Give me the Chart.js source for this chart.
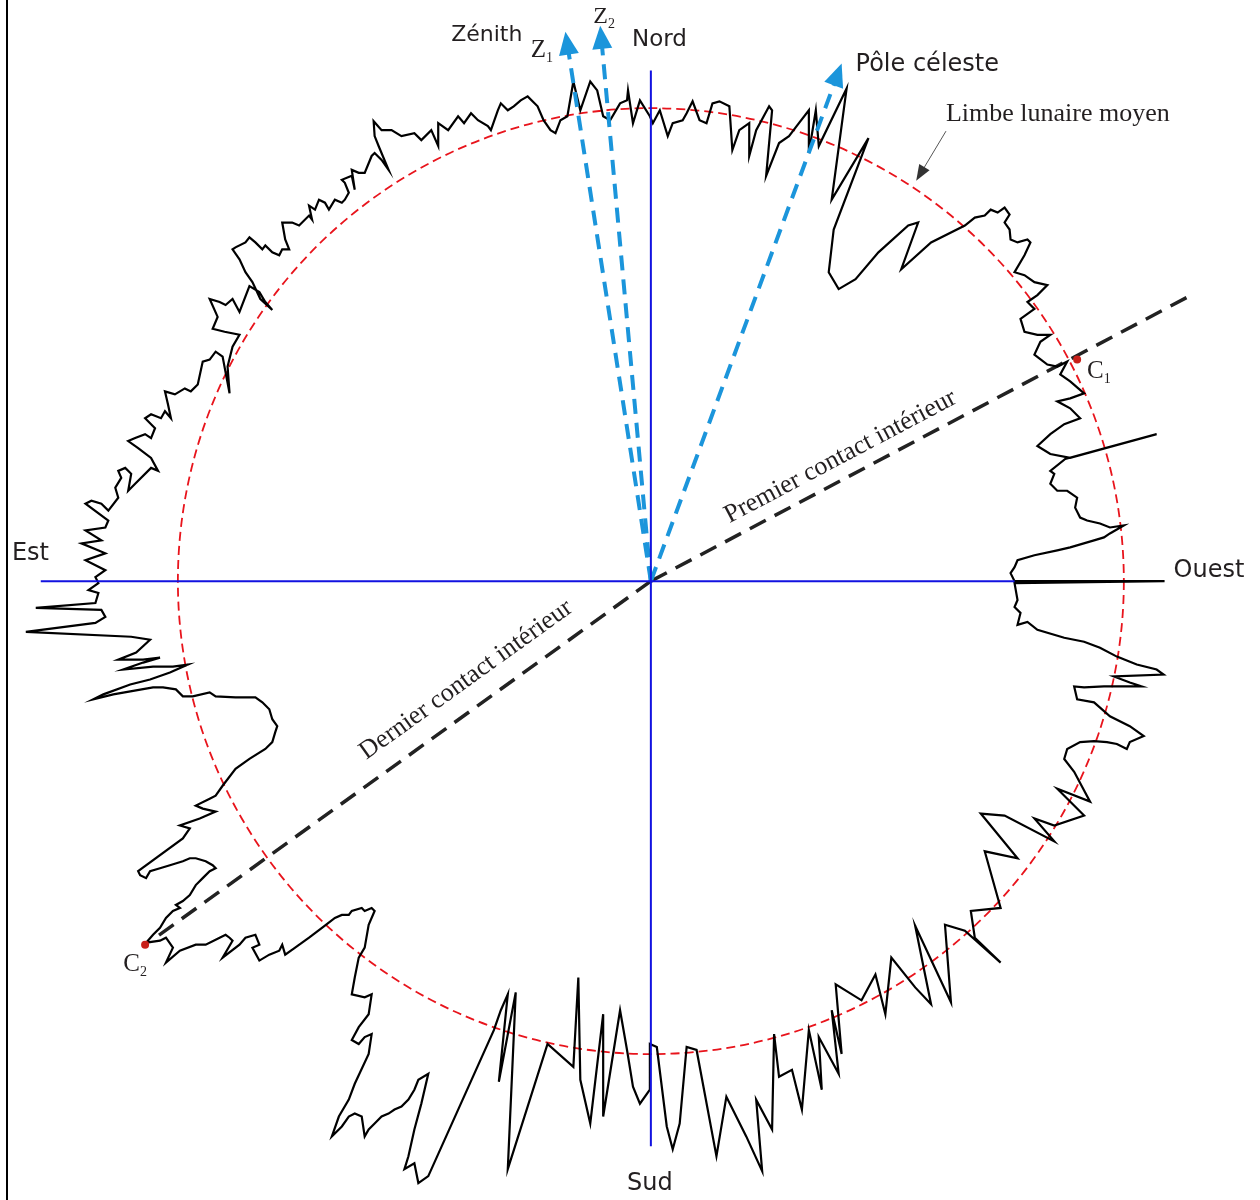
<!DOCTYPE html>
<html>
<head>
<meta charset="utf-8">
<script src="https://cdn.jsdelivr.net/npm/chart.js@4/dist/chart.umd.min.js"></script>
<style>
  body { margin: 0; background: #fff; }
  #wrap { width: 1260px; height: 1200px; }
</style>
</head>
<body>
<div id="wrap"><canvas id="limb"></canvas></div>
<script>
// limb profile, [x, y] offsets from the moon centre (y up), clockwise from north
const limbNorthWest = [[-1,468],[2,461],[9,474],[17,448],[22,461],[32,464],[36,471],[42,483],[49,464],[56,461],[62,481],[69,483],[79,478],[82,434],[89,454],[99,461],[99,428],[106,454],[119,478],[122,474],[116,408],[129,441],[139,448],[149,461],[159,474],[159,431],[166,474],[169,438],[197,496],[182,384],[219,446],[184,354],[179,311],[189,294],[206,304],[229,331],[259,358],[269,361],[252,314],[282,341],[316,358],[326,366],[336,368],[342,374],[349,371],[356,376],[361,369],[356,361],[361,354],[362,344],[369,341],[379,344],[382,341],[376,328],[366,311],[376,308],[386,301],[399,298],[389,288],[379,281],[386,274],[372,264],[376,251],[389,248],[402,248],[392,241],[386,228],[399,218],[409,216],[419,221],[412,208],[422,201],[436,189],[422,184],[409,181],[422,174],[432,164],[416,158],[402,148],[389,136],[402,128],[422,124],[509,148],[417,123],[402,111],[406,108],[402,98],[409,91],[419,91],[429,84],[427,74],[432,64],[439,61],[452,58],[462,54],[476,56],[462,48],[456,44],[446,41],[422,34],[409,31],[386,26],[369,21],[366,14],[362,8],[366,0],[517,0]];
const limbSouthWest = [[366,-2],[369,-19],[366,-26],[372,-32],[369,-44],[379,-41],[389,-49],[416,-57],[426,-59],[436,-61],[452,-67],[469,-76],[489,-84],[509,-89],[516,-94],[466,-96],[482,-102],[494,-106],[456,-106],[436,-107],[426,-106],[429,-119],[446,-122],[462,-136],[482,-146],[496,-156],[482,-162],[479,-169],[469,-164],[459,-162],[446,-161],[432,-162],[419,-169],[416,-179],[426,-192],[442,-222],[409,-209],[436,-236],[406,-246],[386,-239],[406,-262],[356,-236],[332,-234],[369,-279],[336,-272],[352,-329],[322,-332],[326,-359],[352,-384],[316,-352],[296,-346],[302,-424],[266,-347],[282,-426],[266,-409],[242,-379],[236,-436],[226,-396],[212,-422],[186,-406],[192,-476],[182,-432],[189,-496],[169,-459],[172,-512],[159,-452],[152,-532],[142,-492],[129,-499],[124,-456],[122,-552],[106,-522],[112,-594],[96,-559],[76,-519],[66,-579],[46,-472],[36,-469],[29,-546],[22,-572],[16,-549],[6,-469],[-1,-466]];
const limbSouthEast = [[-1,-512],[-11,-526],[-18,-509],[-24,-472],[-31,-432],[-48,-539],[-48,-436],[-61,-546],[-71,-502],[-73,-399],[-78,-489],[-104,-466],[-144,-592],[-136,-414],[-153,-504],[-144,-416],[-151,-432],[-158,-452],[-224,-599],[-234,-606],[-238,-586],[-248,-592],[-244,-579],[-238,-552],[-231,-526],[-224,-496],[-234,-502],[-238,-512],[-244,-522],[-251,-529],[-258,-532],[-264,-536],[-271,-539],[-278,-546],[-284,-552],[-288,-559],[-291,-539],[-298,-536],[-304,-539],[-311,-549],[-321,-559],[-314,-539],[-304,-522],[-298,-506],[-284,-476],[-281,-456],[-288,-459],[-294,-466],[-301,-462],[-294,-449],[-284,-436],[-281,-416],[-288,-419],[-301,-416],[-298,-399],[-294,-379],[-288,-369],[-284,-346],[-278,-332],[-281,-329],[-288,-332],[-291,-329],[-301,-332],[-304,-336],[-311,-336],[-318,-339],[-331,-349],[-344,-359],[-358,-369],[-368,-376],[-371,-366],[-374,-372],[-384,-376],[-394,-382],[-401,-369],[-394,-366],[-398,-356],[-408,-359],[-414,-366],[-431,-379],[-421,-362],[-424,-359],[-428,-356],[-434,-359],[-448,-366],[-458,-366],[-474,-372],[-488,-384],[-481,-369],[-488,-359],[-494,-362],[-508,-364],[-501,-356],[-494,-349],[-488,-339],[-481,-332],[-474,-329],[-478,-326],[-471,-322],[-464,-316],[-458,-306],[-451,-299],[-444,-292],[-438,-289],[-441,-286],[-448,-282],[-458,-279],[-464,-279],[-471,-282],[-484,-286],[-494,-289],[-504,-292],[-508,-299],[-514,-296],[-516,-292],[-471,-259],[-464,-249],[-474,-246],[-454,-239],[-438,-232],[-451,-229],[-458,-226],[-444,-219],[-438,-216],[-431,-206],[-418,-189],[-404,-179],[-388,-169],[-381,-162],[-378,-152],[-376,-146],[-381,-139],[-384,-129],[-391,-122],[-398,-117],[-418,-117],[-438,-116],[-444,-112],[-461,-116],[-471,-116],[-478,-109],[-491,-107],[-501,-107],[-541,-114],[-561,-119],[-551,-114],[-524,-104],[-504,-99],[-484,-92],[-466,-84],[-481,-86],[-501,-86],[-531,-89],[-511,-82],[-494,-77],[-511,-79],[-536,-79],[-518,-72],[-504,-59],[-523,-56],[-629,-51],[-559,-42],[-549,-36],[-553,-29],[-619,-27],[-559,-22],[-556,-12],[-566,-9],[-556,-2]];
const limbNorthEast = [[-559,4],[-549,11],[-569,21],[-549,28],[-573,38],[-553,41],[-569,51],[-549,54],[-546,61],[-569,78],[-563,81],[-553,78],[-546,71],[-536,84],[-539,94],[-533,104],[-536,111],[-529,114],[-523,108],[-526,91],[-519,98],[-503,114],[-496,111],[-503,124],[-516,134],[-526,141],[-519,144],[-509,148],[-503,144],[-499,154],[-509,164],[-503,168],[-493,164],[-489,171],[-483,164],[-486,178],[-489,191],[-479,188],[-469,194],[-463,191],[-456,198],[-451,221],[-444,223],[-438,231],[-431,226],[-424,189],[-426,216],[-421,236],[-414,248],[-429,251],[-441,254],[-436,266],[-444,284],[-434,281],[-428,278],[-421,284],[-414,271],[-404,297],[-394,291],[-388,281],[-381,273],[-393,284],[-401,301],[-408,311],[-414,324],[-421,334],[-418,336],[-408,341],[-404,346],[-398,341],[-391,334],[-388,338],[-381,331],[-374,328],[-371,334],[-364,334],[-368,344],[-371,361],[-361,361],[-354,358],[-344,368],[-341,364],[-344,378],[-338,374],[-334,384],[-328,381],[-324,374],[-318,384],[-311,381],[-308,384],[-304,391],[-308,401],[-311,404],[-301,408],[-298,394],[-301,414],[-294,411],[-288,411],[-281,428],[-278,431],[-271,424],[-264,414],[-274,438],[-278,448],[-279,463],[-271,454],[-261,454],[-251,448],[-238,451],[-231,444],[-221,454],[-214,438],[-214,461],[-204,454],[-194,468],[-188,461],[-181,471],[-174,464],[-164,458],[-161,454],[-154,474],[-151,481],[-144,474],[-138,478],[-131,484],[-124,488],[-114,478],[-108,464],[-101,454],[-96,451],[-91,464],[-84,468],[-78,503],[-71,474],[-61,503],[-54,494],[-48,468],[-41,464],[-31,481],[-24,484],[-23,494],[-18,461],[-11,484],[-1,468]];

const meanRadius = 476;
const eastWestAxis = [-614, 366];
const northSouthAxis = [514, -569];
const firstContact = [544, 288];
const lastContact = [-500, -360];
const contactC1 = [429, 223];
const contactC2 = [-509, -366];
const zenith1 = [-86, 553];
const zenith2 = [-51, 559];
const celestialPole = [192, 521];

const sans = "'DejaVu Sans', sans-serif";
const serif = "'Liberation Serif', 'Times New Roman', serif";
const ink = "#231f20";
const arrowBlue = "#1b95db";

// text labels: [text, x, y, font, subscript]
const labels = [
  ["Zénith", -201, 544, "22px " + sans],
  ["Nord", -19, 539, "23px " + sans],
  ["Pôle céleste", 206, 514, "24px " + sans],
  ["Limbe lunaire moyen", 297, 463, "26px " + serif],
  ["Est", -643, 21, "24px " + sans],
  ["Ouest", 526, 4, "24px " + sans],
  ["Sud", -24, -613, "24px " + sans],
  ["Z", -121, 528, "25px " + serif, "1"],
  ["Z", -58, 562, "24px " + serif, "2"],
  ["C", 439, 204, "25px " + serif, "1"],
  ["C", -531, -392, "25px " + serif, "2"],
];

const toXY = (pts) => pts.map((p) => ({ x: p[0], y: p[1] }));
const segment = (a, b) => [{ x: a[0], y: a[1] }, { x: b[0], y: b[1] }];

const limbProfile = [
  ...limbNorthWest,
  ...limbSouthWest,
  ...limbSouthEast,
  ...limbNorthEast,
];

const decor = {
  id: "decor",
  beforeDatasetsDraw(chart) {
    const { ctx, scales } = chart;
    const cx = scales.x.getPixelForValue(0);
    const cy = scales.y.getPixelForValue(0);
    const r = scales.x.getPixelForValue(meanRadius) - cx;
    ctx.save();
    // frame on the left
    ctx.strokeStyle = "#000";
    ctx.lineWidth = 2;
    ctx.beginPath();
    ctx.moveTo(7, 0);
    ctx.lineTo(7, chart.height);
    ctx.stroke();
    // mean lunar limb
    ctx.strokeStyle = "#e8141c";
    ctx.lineWidth = 1.8;
    ctx.setLineDash([9, 5]);
    ctx.beginPath();
    ctx.arc(cx, cy, r, 0, Math.PI * 2);
    ctx.stroke();
    ctx.restore();
  },
  afterDatasetsDraw(chart) {
    const { ctx, scales } = chart;
    const px = (v) => scales.x.getPixelForValue(v);
    const py = (v) => scales.y.getPixelForValue(v);
    const cx = px(0);
    const cy = py(0);
    ctx.save();

    // arrow heads on the blue directions
    ctx.fillStyle = arrowBlue;
    [zenith1, zenith2, celestialPole].forEach((tip) => {
      const tx = px(tip[0]);
      const ty = py(tip[1]);
      const a = Math.atan2(ty - cy, tx - cx);
      ctx.beginPath();
      ctx.moveTo(tx, ty);
      ctx.lineTo(tx - 23 * Math.cos(a) + 10 * Math.sin(a), ty - 23 * Math.sin(a) - 10 * Math.cos(a));
      ctx.lineTo(tx - 23 * Math.cos(a) - 10 * Math.sin(a), ty - 23 * Math.sin(a) + 10 * Math.cos(a));
      ctx.closePath();
      ctx.fill();
    });

    // pointer to the mean limb
    const p0 = [px(297), py(453)];
    const p1 = [px(267), py(403)];
    const pa = Math.atan2(p1[1] - p0[1], p1[0] - p0[0]);
    ctx.strokeStyle = "#555";
    ctx.fillStyle = "#333";
    ctx.lineWidth = 1;
    ctx.beginPath();
    ctx.moveTo(p0[0], p0[1]);
    ctx.lineTo(p1[0] - 10 * Math.cos(pa), p1[1] - 10 * Math.sin(pa));
    ctx.stroke();
    ctx.beginPath();
    ctx.moveTo(p1[0], p1[1]);
    ctx.lineTo(p1[0] - 16 * Math.cos(pa) + 6 * Math.sin(pa), p1[1] - 16 * Math.sin(pa) - 6 * Math.cos(pa));
    ctx.lineTo(p1[0] - 16 * Math.cos(pa) - 6 * Math.sin(pa), p1[1] - 16 * Math.sin(pa) + 6 * Math.cos(pa));
    ctx.closePath();
    ctx.fill();

    // labels
    ctx.fillStyle = ink;
    ctx.textBaseline = "alphabetic";
    ctx.textAlign = "left";
    labels.forEach(([text, x, y, font, sub]) => {
      ctx.font = font;
      ctx.fillText(text, px(x), py(y));
      if (sub) {
        const w = ctx.measureText(text).width;
        ctx.font = "14px " + serif;
        ctx.fillText(sub, px(x) + w, py(y) + 5);
      }
    });

    // contact line captions
    ctx.font = "26px " + serif;
    ctx.textAlign = "center";
    [
      ["Premier contact intérieur", firstContact, [194, 119]],
      ["Dernier contact intérieur", lastContact, [-182, -105]],
    ].forEach(([text, end, at]) => {
      let a = Math.atan2(py(end[1]) - cy, px(end[0]) - cx);
      if (Math.abs(a) > Math.PI / 2) a += Math.PI;
      ctx.save();
      ctx.translate(px(at[0]), py(at[1]));
      ctx.rotate(a);
      ctx.fillText(text, 0, 0);
      ctx.restore();
    });
    ctx.restore();
  },
};

new Chart(document.querySelector("#limb"), {
  type: "scatter",
  data: {
    datasets: [
      {
        data: segment([eastWestAxis[0], 0], [eastWestAxis[1], 0]),
        showLine: true,
        borderColor: "#1212e0",
        borderWidth: 2,
        pointRadius: 0,
        order: 0,
      },
      {
        data: segment([0, northSouthAxis[0]], [0, northSouthAxis[1]]),
        showLine: true,
        borderColor: "#1212e0",
        borderWidth: 2,
        pointRadius: 0,
        order: 0,
      },
      {
        data: toXY(limbProfile),
        showLine: true,
        borderColor: "#000",
        borderWidth: 2.2,
        pointRadius: 0,
        tension: 0,
        order: 1,
      },
      {
        data: segment([0, 0], firstContact),
        showLine: true,
        borderColor: "#222",
        borderWidth: 3.5,
        borderDash: [18, 10],
        pointRadius: 0,
        order: 2,
      },
      {
        data: segment([0, 0], lastContact),
        showLine: true,
        borderColor: "#222",
        borderWidth: 3.5,
        borderDash: [18, 10],
        pointRadius: 0,
        order: 2,
      },
      ...[zenith1, zenith2, celestialPole].map((tip) => ({
        data: segment([0, 0], [tip[0] * 0.96, tip[1] * 0.96]),
        showLine: true,
        borderColor: arrowBlue,
        borderWidth: 4,
        borderDash: [15, 9],
        pointRadius: 0,
        order: 0,
      })),
      {
        data: toXY([contactC1, contactC2]),
        showLine: false,
        pointRadius: 4,
        pointBackgroundColor: "#c8201a",
        pointBorderWidth: 0,
        order: 0,
      },
    ],
  },
  options: {
    responsive: true,
    maintainAspectRatio: false,
    animation: false,
    layout: { padding: 0 },
    plugins: { legend: { display: false }, tooltip: { enabled: false } },
    scales: {
      x: { type: "linear", min: -651, max: 609, display: false },
      y: { type: "linear", min: -619, max: 581, display: false },
    },
  },
  plugins: [decor],
});
</script>
</body>
</html>
